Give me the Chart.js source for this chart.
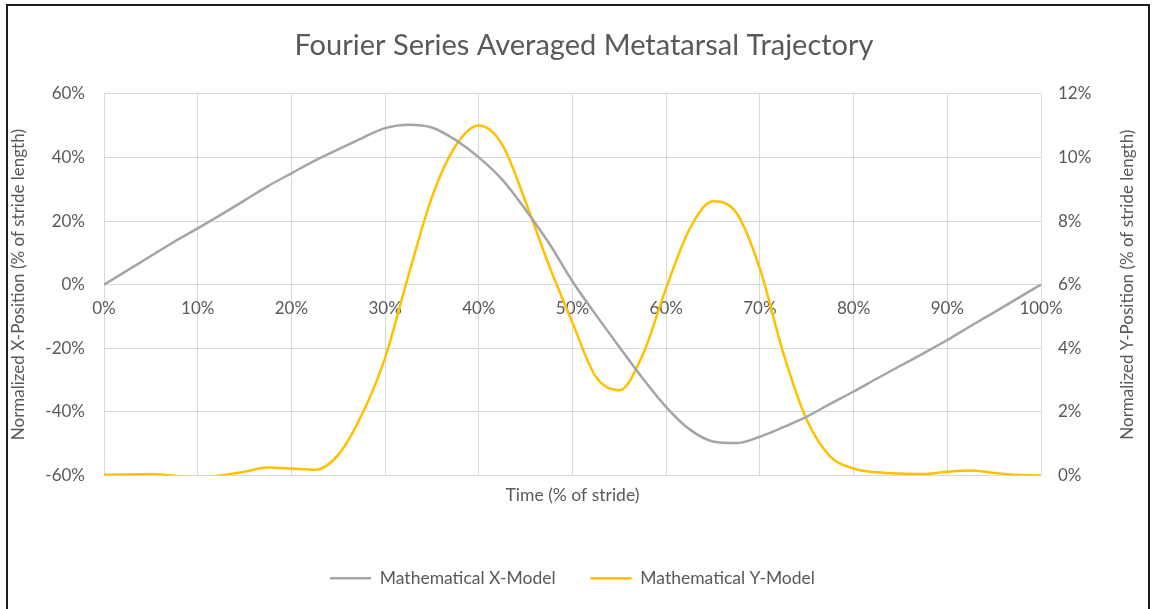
<!DOCTYPE html>
<html>
<head>
<meta charset="utf-8">
<script src="https://cdn.jsdelivr.net/npm/chart.js@4.4.1/dist/chart.umd.min.js"></script>
<style>
  html, body { margin: 0; padding: 0; background: #fff; }
</style>
</head>
<body>
<canvas id="chart" width="1152" height="609"></canvas>
<script>
// DATA (time in % of stride, values in %)
let times = [0, 2.5, 5, 7.5, 10, 12.5, 15, 17.5, 20, 22.5, 25, 27.5, 30, 32.5, 35, 37.5, 40,
  42.5, 45, 47.5, 50, 52.5, 55, 57.5, 60, 62.5, 65, 67.5, 70, 72.5, 75, 77.5, 80,
  82.5, 85, 87.5, 90, 92.5, 95, 97.5, 100];

let xModel = [0, 4.5, 9, 13.5, 17.7, 22, 26.5, 31, 35, 39, 42.5, 46, 49.2, 50.3, 49.4, 45.5, 40,
  33, 23.5, 13, 1, -9.5, -19.6, -29.5, -38.5, -45.5, -49.3, -49.8, -47.8, -44.8, -41.5, -37.5, -33.6,
  -29.5, -25.5, -21.5, -17.4, -13, -8.7, -4.3, 0];

let yModel = [0.02, 0.03, 0.05, -0.01, -0.05, 0.0, 0.12, 0.25, 0.22, 0.18, 0.65, 1.9, 3.7, 6.3, 8.75, 10.35, 11.0,
  10.4, 8.6, 6.6, 4.8, 3.1, 2.68, 3.8, 5.9, 7.75, 8.62, 8.25, 6.5, 3.85, 1.75, 0.6, 0.22,
  0.1, 0.06, 0.05, 0.12, 0.16, 0.08, 0.02, 0.0];

let xTicks = [0, 10, 20, 30, 40, 50, 60, 70, 80, 90, 100];
let leftTicks = [-60, -40, -20, 0, 20, 40, 60];
let rightTicks = [0, 2, 4, 6, 8, 10, 12];

let chartTitle = "Fourier Series Averaged Metatarsal Trajectory";
let xTitle = "Time (% of stride)";
let leftTitle = "Normalized X-Position (% of stride length)";
let rightTitle = "Normalized Y-Position (% of stride length)";

// STYLE
const textGray = "#595959";
const gridGray = "#d9d9d9";
Chart.defaults.font.family = "Lato";

function toPoints(values) {
  return values.map((v, i) => ({ x: times[i], y: v }));
}

function useTicks(list) {
  return scale => { scale.ticks = list.map(v => ({ value: v })); };
}

// frame around the chart + right axis title (reads bottom to top)
const framePlugin = {
  id: "frame",
  afterDraw(chart) {
    let ctx = chart.ctx;
    let a = chart.chartArea;
    ctx.save();
    ctx.strokeStyle = "#1e1e1e";
    ctx.lineWidth = 2;
    ctx.beginPath();
    ctx.moveTo(7, 612);
    ctx.lineTo(7, 5);
    ctx.lineTo(1149, 5);
    ctx.lineTo(1149, 612);
    ctx.stroke();

    ctx.translate(1128, (a.top + a.bottom) / 2);
    ctx.rotate(-Math.PI / 2);
    ctx.font = "17px Lato";
    ctx.fillStyle = textGray;
    ctx.textAlign = "center";
    ctx.textBaseline = "middle";
    ctx.fillText(rightTitle, 0, 0);
    ctx.restore();
  }
};

// CHART
let chart = new Chart(document.getElementById("chart"), {
  type: "line",
  data: {
    datasets: [
      {
        label: "Mathematical X-Model",
        data: toPoints(xModel),
        yAxisID: "y",
        borderColor: "#a5a5a5",
        backgroundColor: "#a5a5a5",
        borderWidth: 2.5,
        pointRadius: 0,
        cubicInterpolationMode: "monotone",
        fill: false
      },
      {
        label: "Mathematical Y-Model",
        data: toPoints(yModel),
        yAxisID: "y1",
        borderColor: "#ffc000",
        backgroundColor: "#ffc000",
        borderWidth: 2.5,
        pointRadius: 0,
        cubicInterpolationMode: "monotone",
        fill: false
      }
    ]
  },
  options: {
    responsive: false,
    animation: false,
    events: [],
    layout: { padding: { left: 16, right: 0, top: 0, bottom: 12 } },
    plugins: {
      title: {
        display: true,
        text: chartTitle,
        color: textGray,
        font: { size: 29, weight: "normal" },
        padding: { top: 28, bottom: 31 }
      },
      legend: {
        position: "bottom",
        fullSize: false,
        labels: {
          usePointStyle: true,
          pointStyle: "line",
          pointStyleWidth: 41,
          color: textGray,
          font: { size: 17.5 },
          padding: 35
        }
      },
      tooltip: { enabled: false }
    },
    scales: {
      x: {
        type: "linear",
        min: 0,
        max: 100,
        position: { y: 0 },
        afterBuildTicks: useTicks(xTicks),
        grid: { color: gridGray, drawTicks: false },
        border: { display: false },
        ticks: {
          color: textGray,
          font: { size: 17 },
          padding: 14,
          maxRotation: 0,
          autoSkip: false,
          callback: v => v + "%"
        }
      },
      xTitleAxis: {
        type: "linear",
        axis: "x",
        position: "bottom",
        ticks: { display: false },
        grid: { display: false },
        border: { display: false },
        title: {
          display: true,
          text: xTitle,
          color: textGray,
          font: { size: 17.5 },
          padding: { top: 0, bottom: 28.5 }
        },
        afterFit: s => { s.height = 59; }
      },
      y: {
        min: -60,
        max: 60,
        position: "left",
        afterBuildTicks: useTicks(leftTicks),
        grid: { color: gridGray, drawTicks: false },
        border: { display: false },
        ticks: {
          color: textGray,
          font: { size: 17 },
          padding: 19,
          callback: v => v + "%"
        },
        title: {
          display: true,
          text: leftTitle,
          color: textGray,
          font: { size: 17 },
          padding: { top: -8, bottom: 0 }
        },
        afterFit: s => { s.width = 88; }
      },
      y1: {
        min: 0,
        max: 12,
        position: "right",
        afterBuildTicks: useTicks(rightTicks),
        grid: { drawOnChartArea: false, drawTicks: false },
        border: { display: false },
        ticks: {
          color: textGray,
          font: { size: 17 },
          padding: 17,
          callback: v => v + "%"
        },
        afterFit: s => { s.width = 111; }
      }
    }
  },
  plugins: [framePlugin]
});
</script>
</body>
</html>
